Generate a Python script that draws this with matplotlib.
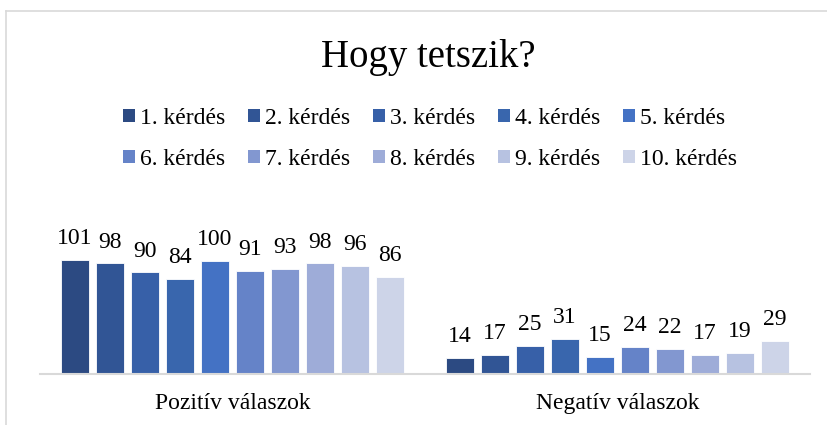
import numpy as np
import matplotlib.pyplot as plt
from matplotlib.lines import Line2D
from matplotlib.patches import Patch

categories = ["Pozitív válaszok", "Negatív válaszok"]
questions = [f"{i}. kérdés" for i in range(1, 11)]
values = [
    [101, 14],
    [98, 17],
    [90, 25],
    [84, 31],
    [100, 15],
    [91, 24],
    [93, 22],
    [98, 17],
    [96, 19],
    [86, 29],
]
colors = ["#2c4a82", "#315595", "#3760a8", "#3966ad", "#4472c4",
          "#6583c8", "#8297d0", "#9eacd8", "#b7c2e1", "#cdd4e8"]

plt.rcParams['font.family'] = ['Liberation Serif', 'DejaVu Serif']

fig = plt.figure(figsize=(8.27, 4.25), dpi=100)
ax = fig.add_axes([40 / 827, 51 / 425, 770 / 827, 135.5 / 425])

x = np.arange(len(categories))
slot = 1 / 11
width = 0.8 * slot
for i, (q, vals) in enumerate(zip(questions, values)):
    pos = x + (i - 4.5) * slot
    bars = ax.bar(pos, vals, width, color=colors[i], label=q,
                  edgecolor='white', linewidth=0.6)
    for b, v in zip(bars, vals):
        ax.text(b.get_x() + b.get_width() / 2, v + 14, str(v),
                ha='center', va='baseline', fontsize=17)

ax.set_xlim(-0.5, 1.5)
ax.set_ylim(0, 120)
ax.set_xticks(x)
ax.set_xticklabels(categories, fontsize=17)
ax.tick_params(axis='x', length=0, pad=14)
ax.set_yticks([])
for s in ['top', 'right', 'left']:
    ax.spines[s].set_visible(False)
ax.spines['bottom'].set_color('#d9d9d9')
ax.spines['bottom'].set_linewidth(1.5)

fig.text(428 / 827, 1 - 57 / 425, "Hogy tetszik?", ha='center', va='center',
         fontsize=28)

# legend fills column by column, so reorder to read row by row
order = [0, 5, 1, 6, 2, 7, 3, 8, 4, 9]
handles = [Patch(facecolor=colors[k]) for k in order]
labels = [questions[k] for k in order]
fig.legend(handles, labels, ncol=5, loc='center',
           bbox_to_anchor=(430 / 827, 1 - 139 / 425), frameon=False,
           fontsize=17, handlelength=0.5, handleheight=0.5,
           handletextpad=0.22, columnspacing=0.97, labelspacing=0.85)

# chart border (cut off at the right and bottom)
fig.add_artist(Line2D([6 / 827, 6 / 827], [0, 1 - 11 / 425],
                      color='#d9d9d9', lw=1.2, transform=fig.transFigure))
fig.add_artist(Line2D([6 / 827, 1], [1 - 11 / 425, 1 - 11 / 425],
                      color='#d9d9d9', lw=1.2, transform=fig.transFigure))

fig.savefig("out.png", dpi=100)
